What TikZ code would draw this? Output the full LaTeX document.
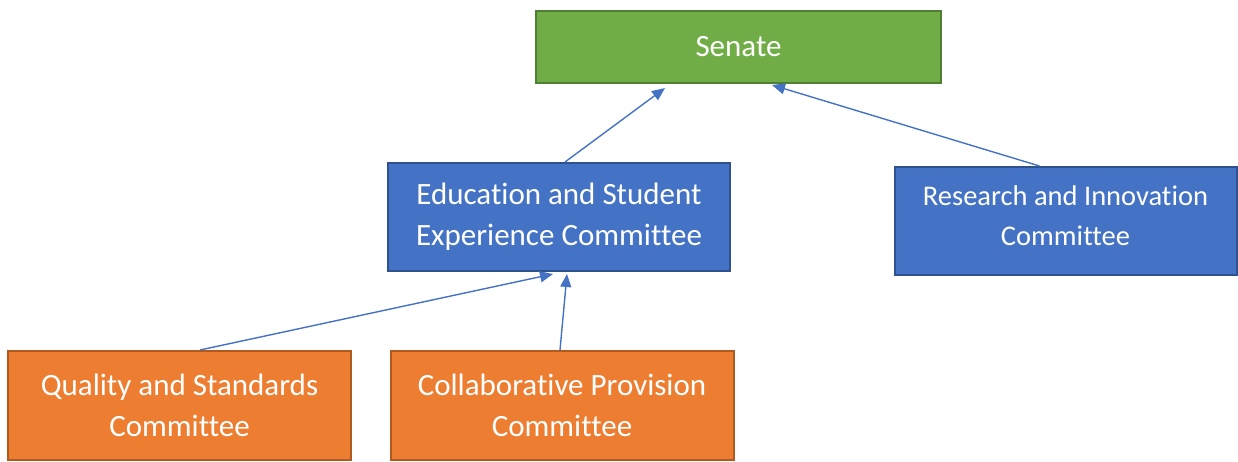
\documentclass[tikz,border=0pt]{standalone}
\usepackage{fontspec}
\setmainfont{Carlito}[Ligatures=NoCommon]
\usetikzlibrary{arrows.meta,calc}
\definecolor{sgreen}{HTML}{70AD47}
\definecolor{sgreenline}{HTML}{507E32}
\definecolor{cblue}{HTML}{4472C4}
\definecolor{cblueline}{HTML}{2F528F}
\definecolor{corange}{HTML}{ED7D31}
\definecolor{corangeline}{HTML}{AE5A21}
\begin{document}
\begin{tikzpicture}[x=1pt,y=-1pt,
  unit/.style={rectangle, line width=2pt, text=white, align=center,
    font=\fontsize{31}{41}\selectfont, inner sep=0pt},
  senatebox/.style={unit, fill=sgreen, draw=sgreenline, minimum width=405pt, minimum height=72pt},
  bluebox/.style={unit, fill=cblue, draw=cblueline, minimum width=342pt, minimum height=108pt},
  orangebox/.style={unit, fill=corange, draw=corangeline, minimum width=343pt, minimum height=109pt},
  link/.style={draw=cblue, line width=1.4pt, -{Triangle[length=13pt,width=11pt]}}]
\useasboundingbox (0,0) rectangle (1238,462);
\node[senatebox] (senate) at (738.5,47) {Senate};
\node[bluebox] (ese) at (559,217) {Education and Student\\Experience Committee};
\node[bluebox] (ri) at (1065.5,221) {};
\node[unit, font=\fontsize{28.5}{40}\selectfont] (rit) at ($(ri.center)+(0,-5)$) {Research and Innovation\\Committee};
\node[orangebox] (qs) at (179.5,405.5) {Quality and Standards\\Committee};
\node[orangebox] (cp) at (562,405.5) {Collaborative Provision\\Committee};
\draw[link] ($(ese.north)+(6,0)$) -- ($(senate.south)+(-73.5,4)$);
\draw[link] ($(ri.north)+(-26,0)$) -- ($(senate.south)+(33.5,1)$);
\draw[link] ($(qs.north)+(20.5,0)$) -- ($(ese.south)+(-6,2)$);
\draw[link] ($(cp.north)+(-2,0)$) -- ($(ese.south)+(8,2)$);
\end{tikzpicture}
\end{document}
